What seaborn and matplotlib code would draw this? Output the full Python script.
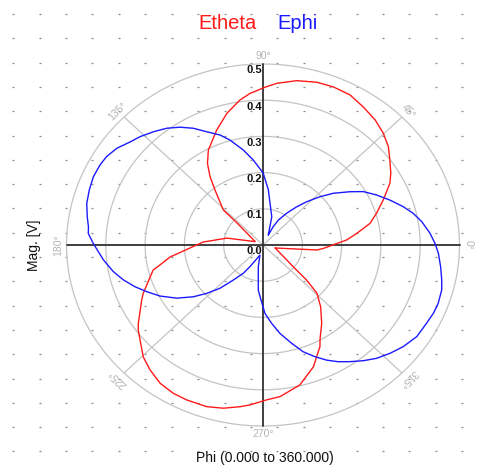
import numpy as np
import matplotlib
matplotlib.use("Agg")
import matplotlib.pyplot as plt
import seaborn as sns

sns.set_theme(style="white")
plt.rcParams['font.family'] = ['Liberation Sans', 'DejaVu Sans']

# ---------------- data ----------------
etheta_angle = [-15, -5.7, -3.5, 3.7, 7.7, 12.4, 16.9, 22.1, 27.8, 31.4, 36, 40.4, 45.3, 50.4,
                56.3, 61.9, 67.7, 73.1, 79.3, 85.5, 89.3, 94.5, 98.3, 104.2, 110.3, 117.9,
                122.1, 125.5, 128.8, 136.2, 137.3, 155, 168.3, 177, 188, 191.9, 193.9, 203.6,
                206.2, 214.3, 216.5, 225.4, 230.2, 235.6, 240.9, 245.6, 252.2, 257.4, 262.5,
                265.7, 271.2, 275.9, 283.6, 290.9, 293.9, 297.3, 298.9, 304.6, 310.7, 315.9,
                318.9, 322, 345]
etheta_mag = [0.032, 0.138, 0.154, 0.213, 0.241, 0.279, 0.302, 0.330, 0.365, 0.381, 0.399, 0.419,
              0.435, 0.448, 0.459, 0.470, 0.472, 0.470, 0.462, 0.448, 0.436, 0.420, 0.405, 0.375,
              0.339, 0.297, 0.266, 0.232, 0.195, 0.140, 0.090, 0.022, 0.094, 0.153, 0.239, 0.268,
              0.288, 0.3325, 0.344, 0.384, 0.395, 0.434, 0.449, 0.463, 0.469, 0.470, 0.469, 0.462,
              0.4506, 0.443, 0.428, 0.421, 0.398, 0.360, 0.337, 0.316, 0.300, 0.263, 0.225, 0.191,
              0.147, 0.098, 0.032]

ephi_angle = [64, 74, 84.9, 89.9, 96, 100.8, 106.2, 109.8, 114.6, 118.8, 123, 127.2, 131.7, 136.3,
              139.9, 144.3, 148.5, 151.9, 156.4, 161, 165.6, 170.1, 173.5, 175.9, 179.4, 182.5,
              185.8, 190.9, 195.2, 199.5, 203.5, 208.3, 213.8, 218.9, 223, 227.5, 232, 237.3, 241,
              254.6, 258.7, 264.5, 267, 271.5, 275.8, 280, 285, 289.1, 293.2, 297, 300.7, 304.5,
              308.6, 312.7, 317.2, 321.8, 327.1, 332.6, 336.7, 340.1, 344.7, 348, 352.4, 357,
              360.6, 364.4, 369.1, 372.9, 376.5, 381, 385.5, 390, 393.6, 398.6, 402.6, 407.1,
              410.9, 415.6, 420.5, 422.8, 424]
ephi_mag = [0.031, 0.081, 0.153, 0.199, 0.236, 0.267, 0.302, 0.323, 0.344, 0.368, 0.388, 0.405,
            0.419, 0.433, 0.442, 0.458, 0.467, 0.470, 0.471, 0.4674, 0.463, 0.454, 0.447, 0.4457,
            0.432, 0.4195, 0.408, 0.388, 0.368, 0.3455, 0.323, 0.2975, 0.264, 0.2277, 0.196,
            0.162, 0.123, 0.0929, 0.068, 0.029, 0.061, 0.125, 0.143, 0.189, 0.2175, 0.248, 0.281,
            0.312, 0.3357, 0.357, 0.375, 0.391, 0.409, 0.426, 0.4404, 0.454, 0.466, 0.469, 0.473,
            0.474, 0.4714, 0.465, 0.456, 0.447, 0.4377, 0.426, 0.409, 0.392, 0.3724, 0.346,
            0.3206, 0.295, 0.266, 0.229, 0.197, 0.163, 0.136, 0.106, 0.079, 0.057, 0.031]

ring_values = [0.1, 0.2, 0.3, 0.4, 0.5]
ring_labels = ["0.0", "0.1", "0.2", "0.3", "0.4", "0.5"]
spoke_angles = [0, 45, 90, 135, 180, 225, 270, 315]
spoke_labels = ["0°", "45°", "90°", "135°", "180°", "225°", "270°", "315°"]
series_names = ["Etheta", "Ephi"]
series_colors = ["#ff1a1a", "#1a1aff"]

# ---------------- layout ----------------
W, H = 482, 468
fig = plt.figure(figsize=(W / 100, H / 100), dpi=100, facecolor="white")

# background dotted grid (pixel coordinates)
bg = fig.add_axes([0, 0, 1, 1])
bg.set_xlim(0, W)
bg.set_ylim(H, 0)
bg.set_axis_off()
gx, gy = np.meshgrid(13.3 + 26.4 * np.arange(18), 14 + 24.3 * np.arange(19))
bg.plot(gx.ravel(), gy.ravel(), linestyle="none", marker="_", ms=1.6, mew=0.9,
        color="#8c8c8c", zorder=0)

# main axes: origin at pixel (263,245), 393 px/unit horizontally, 362 px/unit vertically
cx, cy, sx, sy = 263, 245, 393.0, 362.0
ax = fig.add_axes([0, 0, 1, 1])
ax.patch.set_alpha(0)
ax.set_xlim(-cx / sx, (W - cx) / sx)
ax.set_ylim(-(H - cy) / sy, cy / sy)
ax.set_axis_off()

t = np.linspace(0, 2 * np.pi, 721)
grid_col = "#c4c4c4"
for r in ring_values:
    ax.plot(r * np.cos(t), r * np.sin(t), color=grid_col, lw=0.9, zorder=1)
rmax = max(ring_values)
for a in spoke_angles:
    if a % 90 != 0:
        ar = np.deg2rad(a)
        ax.plot([0, rmax * np.cos(ar)], [0, rmax * np.sin(ar)], color=grid_col, lw=0.9, zorder=1)
ax.plot([-rmax, rmax], [0, 0], color="#303030", lw=1.3, zorder=2)
ax.plot([0, 0], [-rmax, rmax], color="#303030", lw=1.3, zorder=2)

# radial value labels
for i, lab in enumerate(ring_labels):
    ax.text(-0.002, i * 0.1 - 0.004, lab, ha="right", va="top", fontsize=8,
            fontweight="bold", color="#111111", zorder=5)

# angle labels
for a, lab in zip(spoke_angles, spoke_labels):
    ar = np.deg2rad(a)
    rr = 0.522
    ax.text(rr * np.cos(ar), rr * np.sin(ar), lab, ha="center", va="center",
            rotation=a - 90 if a not in (90, 270) else 0, rotation_mode="anchor",
            fontsize=7.5, color="#b4b4b4", zorder=5)

# curves
for ang, mag, col in [(etheta_angle, etheta_mag, series_colors[0]),
                      (ephi_angle, ephi_mag, series_colors[1])]:
    ar = np.deg2rad(np.array(ang))
    m = np.array(mag)
    sns.lineplot(x=m * np.cos(ar), y=m * np.sin(ar), sort=False, estimator=None,
                 color=col, lw=1.0, ax=ax, zorder=4)

# texts
fig.text(228 / W, 1 - 29 / H, series_names[0], color=series_colors[0], fontsize=14.5,
         ha="center", va="baseline")
fig.text(297.5 / W, 1 - 29 / H, series_names[1], color=series_colors[1], fontsize=14.5,
         ha="center", va="baseline")
fig.text(264.5 / W, 1 - 458 / H, "Phi (0.000 to 360.000)", fontsize=10, color="#111111",
         ha="center", va="center")
fig.text(34 / W, 1 - 245 / H, "Mag. [V]", fontsize=10, color="#111111", rotation=90,
         ha="center", va="center")

fig.savefig("out.png", dpi=100, facecolor="white")
